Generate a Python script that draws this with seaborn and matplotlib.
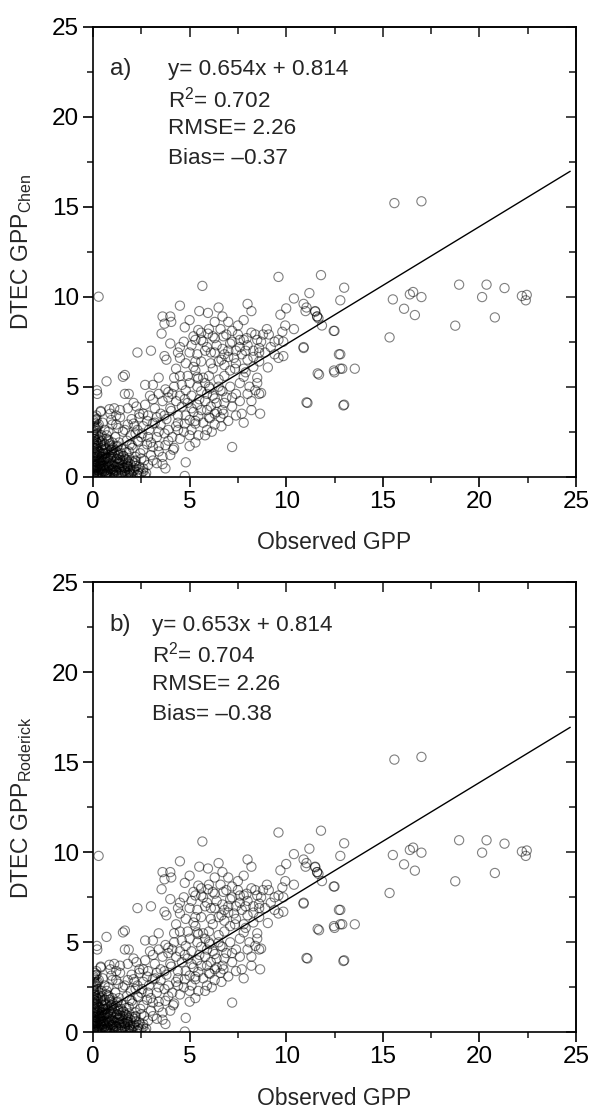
import matplotlib
matplotlib.use("Agg")
import matplotlib.pyplot as plt
import seaborn as sns
import pandas as pd
import numpy as np
from matplotlib.ticker import MultipleLocator

# ---------------- data ----------------
obs_a = [0.29, 5.66, 9.6, 11.8, 13.0, 11.2, 10.4, 12.8, 10.0, 11.0, 11.5, 9.7, 10.9, 8.0, 8.2,
         4.5, 3.6, 4.0, 3.7, 4.05, 3.55, 4.75, 5.0, 5.5, 5.95, 6.5, 6.7, 7.0, 7.5, 7.8,
         2.3, 3.0, 3.7, 4.5, 4.5, 4.7, 5.2, 5.45, 5.95, 5.6, 6.3, 6.75, 7.2, 7.6, 7.95,
         8.4, 8.7, 9.1, 9.4, 9.8, 9.95, 10.4, 9.85, 10.9, 9.85, 9.6, 9.05, 11.6, 11.85, 12.5,
         12.8, 12.9, 12.5, 13.55, 11.7, 11.1, 13.0, 8.65, 8.2, 7.7, 7.2, 7.2, 5.0, 4.8, 4.75,
         3.75, 8.6, 8.5, 8.7, 8.5, 7.8, 7.35, 7.8, 8.3, 7.9, 8.6, 7.0, 6.65, 6.1, 6.3,
         5.8, 5.2, 5.3, 5.4, 5.45, 5.0, 4.2, 4.3, 3.8, 1.55, 1.65, 0.7, 0.22, 1.65, 1.85,
         2.7, 3.1, 2.95, 3.4, 3.75, 3.9, 4.1, 4.5, 4.75, 5.6, 6.05, 6.6, 6.7, 6.3, 5.8,
         5.4, 5.1, 5.9, 6.3, 6.75, 6.05, 5.45, 5.0, 4.75, 4.4, 4.05, 3.7, 3.3, 2.85, 2.4,
         2.25, 1.8, 1.4, 1.1, 0.85, 0.4, 0.95, 1.2, 1.65, 2.1, 2.6, 3.1, 3.4, 3.9, 4.3,
         4.7, 5.1, 5.45, 5.8, 6.15, 6.65, 5.3, 2.85, 2.35, 2.0, 2.6, 3.1, 3.4, 3.75, 4.15,
         3.6, 3.0, 2.5, 2.15, 2.85, 3.3, 2.75, 2.35, 1.8, 1.5, 1.3, 0.95, 0.8, 0.45, 0.25,
         0.12, 0.17, 0.6, 0.35, 1.0, 1.65,
         # right-hand part
         11.05, 11.5, 11.6, 11.67, 12.46, 10.9, 12.73, 11.63, 12.47, 12.8, 11.05, 12.96,
         15.35, 15.52, 16.1, 16.4, 16.57, 16.66, 17.0, 18.95, 18.75, 20.14, 20.37, 20.8,
         21.3, 22.2, 22.45, 22.4, 15.6, 17.0,
         # crowded corner near the origin
         0.05, 0.1, 0.15, 0.2, 0.05, 0.3, 0.1, 0.25, 0.4, 0.35, 0.5, 0.45, 0.6, 0.7, 0.55,
         0.08, 0.2, 0.15, 0.05, 0.3, 0.12, 0.05, 0.25, 0.4, 0.5, 0.65, 0.75, 0.8, 0.9, 1.0,
         1.1, 1.2, 1.3, 1.4, 1.5, 1.6, 1.7, 1.8, 1.9, 2.0, 2.1, 2.2, 2.4, 0.02, 0.03,
         0.02, 0.07, 0.03, 0.18, 0.1, 0.6, 0.7, 0.85, 0.95, 1.05, 1.15, 1.25, 1.35, 1.45, 1.55,
         1.65, 1.75, 1.85, 1.95, 2.05, 2.15, 2.3, 2.45, 2.55, 2.65, 0.15, 0.25, 0.35, 0.45, 0.55,
         0.65, 0.75, 0.85, 0.95, 1.05, 0.12, 0.22, 0.32, 0.42, 0.62, 0.72, 0.82, 0.3, 0.5, 0.8,
         1.0, 1.3, 0.9, 1.2, 0.2, 0.4, 0.04, 0.09, 0.14, 0.19, 0.28, 0.38, 0.48, 0.58, 0.68,
         0.78, 0.88, 0.98, 1.08, 1.18, 1.28, 1.38, 1.48, 1.58, 1.68, 1.78, 1.88, 0.06, 0.16, 0.26,
         0.02, 0.03, 0.06, 0.09, 0.11, 0.13, 0.17, 0.21, 0.24, 0.27, 0.31, 0.34, 0.37, 0.41, 0.44,
         0.47, 0.51, 0.54, 0.57, 0.61, 0.64, 0.67, 0.71, 0.74, 0.77, 0.81, 0.84, 0.87, 0.91, 0.94,
         0.97, 1.01, 1.04, 1.07, 1.11, 1.14, 1.17, 1.21, 1.24, 1.27, 1.31, 1.34, 1.37, 1.41, 1.44,
         1.47, 1.52, 1.57, 1.62, 1.67, 1.72, 1.77, 1.82, 1.87, 1.92, 1.97, 2.02, 2.12, 2.22, 2.32,
         0.02, 0.04, 0.06, 0.03, 0.08, 0.05, 0.02, 0.07, 0.04, 0.09, 0.02, 0.06, 0.04, 0.14, 0.16,
         0.13, 0.18, 0.15, 0.19, 0.22, 0.24, 0.26, 0.23, 0.28, 0.29, 0.33, 0.36, 0.39, 0.43, 0.46,
         0.49, 0.53, 0.58, 0.63, 0.68, 0.73, 0.79, 0.83, 0.89, 0.96, 1.02, 1.09, 1.16, 1.23, 1.33,
         1.43, 1.53, 1.63, 1.73, 1.83, 1.93, 2.05, 2.18, 2.28, 2.4, 2.5, 2.6, 2.7,
         # middle band
         3.2, 3.5, 3.8, 4.1, 4.4, 4.6, 4.9, 5.2, 5.5, 5.7, 5.9, 6.1, 6.4, 6.6, 6.9,
         7.1, 7.4, 7.6, 7.9, 8.1, 8.3, 8.6, 8.9, 9.2, 9.4, 9.6, 6.0, 6.2, 6.5, 6.8,
         7.0, 7.3, 7.6, 7.8, 8.0, 8.2, 8.5, 8.8, 9.0, 5.3, 5.6, 5.8, 4.9, 4.6, 4.3,
         4.0, 3.6, 3.3, 2.9, 2.6, 2.3, 2.0, 1.8, 3.0, 3.7, 4.2, 4.5, 5.0, 5.3, 5.9,
         6.3, 6.7, 7.0, 7.4, 7.8, 8.2, 8.4, 6.1, 6.4, 6.7, 6.9, 7.2, 7.5, 5.1, 5.4,
         5.7, 6.0, 6.3, 6.6, 4.8, 4.4, 4.0, 3.4, 3.1, 2.7, 2.4, 2.1, 1.4,
         4.2, 4.5, 4.8, 5.1, 5.4, 5.7, 6.0, 6.2, 6.5, 6.8, 7.1, 7.4, 7.7, 8.0, 8.3,
         8.6, 5.0, 5.3, 5.6, 5.9, 6.2, 6.5, 6.8, 7.1, 7.4, 3.9, 3.5, 3.2, 2.8, 2.5,
         2.2, 2.8, 3.4, 3.9, 4.4, 4.8, 5.3, 5.6, 6.0, 6.4, 6.8, 7.2, 7.6, 8.0, 3.1,
         3.6, 4.0, 2.6, 2.2, 1.9]

chen = [10.0, 10.6, 11.1, 11.2, 10.5, 10.2, 9.9, 9.8, 9.35, 9.2, 9.2, 9.0, 9.6, 9.6, 9.2,
        9.5, 8.9, 8.9, 8.5, 8.6, 7.95, 8.3, 8.7, 9.2, 9.1, 9.4, 8.9, 8.6, 8.4, 8.7,
        6.9, 7.0, 6.7, 7.2, 6.6, 7.5, 7.8, 8.15, 7.95, 7.6, 7.7, 7.8, 7.5, 7.6, 7.7,
        7.9, 7.5, 7.9, 7.5, 8.05, 8.4, 8.2, 7.5, 7.15, 6.7, 6.6, 6.07, 8.9, 8.4, 8.1,
        6.8, 6.0, 5.8, 6.0, 5.67, 4.1, 4.0, 3.5, 3.7, 3.5, 3.9, 1.65, 1.7, 0.8, 0.04,
        0.46, 4.6, 5.2, 4.65, 5.5, 5.55, 6.0, 6.0, 6.65, 7.0, 7.15, 6.65, 6.5, 6.3, 6.9,
        7.0, 6.1, 6.4, 5.55, 5.45, 5.2, 5.5, 6.0, 6.5, 5.55, 5.65, 5.3, 4.6, 4.6, 4.6,
        5.1, 5.1, 4.5, 4.6, 4.85, 4.7, 4.6, 4.5, 4.3, 4.75, 4.9, 4.8, 4.75, 4.35, 4.2,
        4.0, 3.8, 3.7, 3.5, 3.5, 3.25, 3.35, 3.15, 2.95, 3.4, 3.65, 3.4, 3.3, 3.4, 3.3,
        3.9, 3.8, 3.3, 3.8, 3.75, 3.65, 3.15, 2.9, 2.6, 2.95, 2.8, 2.95, 2.5, 2.6, 2.8,
        2.5, 2.6, 2.3, 2.3, 2.5, 2.8, 2.95, 2.2, 1.95, 1.75, 1.5, 1.65, 1.4, 1.75, 1.5,
        1.1, 1.2, 1.0, 0.75, 0.65, 0.75, 0.2, 0.4, 0.45, 0.75, 1.3, 1.5, 2.05, 2.3, 2.8,
        3.15, 3.4, 1.1, 0.75, 0.4, 0.2,
        # right-hand part
        9.4, 9.17, 8.9, 8.8, 8.1, 7.2, 6.8, 5.74, 5.9, 6.0, 4.13, 3.96,
        7.74, 9.85, 9.33, 10.13, 10.26, 8.98, 9.98, 10.67, 8.39, 9.98, 10.67, 8.85,
        10.48, 10.04, 10.1, 9.8, 15.2, 15.3,
        # crowded corner near the origin
        0.1, 0.3, 0.05, 0.5, 0.7, 0.2, 1.0, 0.8, 0.4, 0.1, 0.6, 1.1, 0.3, 0.05, 0.9,
        1.4, 1.7, 2.0, 2.3, 1.4, 2.7, 3.0, 2.4, 1.9, 1.5, 1.3, 0.8, 0.4, 0.15, 0.7,
        0.35, 0.1, 0.55, 0.9, 0.25, 0.5, 0.1, 0.8, 0.3, 0.1, 0.5, 1.1, 0.15, 0.2, 0.5,
        1.2, 1.8, 2.6, 3.2, 3.3, 2.6, 2.1, 1.8, 1.1, 1.6, 2.2, 1.0, 1.9, 1.3, 2.5,
        1.0, 2.0, 1.4, 2.3, 1.6, 2.8, 2.0, 1.3, 2.4, 0.9, 0.15, 0.35, 0.6, 0.2, 0.45,
        0.65, 0.25, 0.55, 0.4, 0.2, 0.65, 1.2, 1.0, 0.75, 1.0, 1.5, 1.2, 2.9, 3.0, 2.5,
        2.9, 2.7, 3.5, 3.4, 4.8, 3.6, 0.35, 0.85, 0.6, 1.55, 0.05, 0.9, 0.3, 1.25, 0.15,
        1.05, 0.45, 1.35, 0.6, 0.3, 1.7, 0.75, 0.05, 1.15, 0.35, 0.6, 0.2, 2.1, 0.05, 1.75,
        0.45, 1.6, 0.9, 2.1, 0.25, 1.35, 2.55, 0.05, 1.85, 0.7, 1.15, 2.2, 0.45, 1.6, 0.95,
        2.0, 0.15, 1.3, 0.6, 1.8, 0.35, 1.05, 2.3, 0.5, 1.4, 0.1, 0.85, 1.7, 0.3, 1.25,
        0.65, 1.9, 0.45, 1.1, 0.05, 0.8, 1.45, 0.35, 1.65, 0.7, 0.2, 1.2, 0.5, 0.95, 0.15,
        1.55, 0.6, 1.15, 0.3, 0.75, 1.35, 0.2, 0.55, 1.05, 0.4, 0.15, 0.85, 0.35, 0.6, 0.25,
        0.05, 0.35, 0.6, 0.85, 1.1, 1.3, 1.55, 1.75, 1.95, 2.2, 2.45, 2.8, 3.1, 0.45, 0.85,
        1.6, 1.9, 2.35, 2.75, 0.15, 0.6, 1.05, 1.45, 2.05, 0.35, 0.85, 1.35, 0.15, 0.55, 1.25,
        0.85, 1.75, 0.95, 1.55, 0.2, 1.0, 0.6, 1.95, 1.0, 1.5, 0.3, 1.35, 0.55, 1.0, 0.8,
        0.4, 0.9, 0.5, 0.95, 0.1, 0.7, 0.3, 0.85, 0.1, 0.55, 0.2, 0.45, 0.05,
        # middle band
        3.8, 2.9, 3.2, 2.2, 3.0, 3.9, 4.1, 3.6, 4.3, 3.0, 4.6, 3.9, 4.1, 3.3, 4.4,
        5.0, 4.6, 5.2, 5.8, 5.0, 6.1, 6.4, 6.9, 7.2, 6.8, 7.6, 5.6, 6.0, 5.4, 6.2,
        7.0, 6.6, 7.2, 7.6, 7.3, 8.0, 7.6, 7.9, 8.2, 5.9, 6.4, 5.2, 5.6, 5.1, 4.2,
        3.8, 4.2, 2.2, 2.6, 3.5, 2.6, 3.2, 2.9, 1.9, 2.4, 1.6, 2.1, 2.3, 1.9, 2.6,
        2.9, 3.7, 3.1, 3.4, 3.0, 4.2, 4.8, 6.9, 7.3, 7.1, 7.9, 8.1, 7.9, 7.3, 6.8,
        7.5, 8.2, 8.6, 8.2, 6.3, 6.9, 7.4, 5.5, 4.3, 4.0, 3.5, 4.1, 3.7,
        5.0, 5.6, 4.8, 4.5, 5.0, 5.5, 5.0, 4.5, 5.0, 5.6, 5.9, 6.3, 6.8, 6.5, 7.0,
        6.9, 6.9, 7.6, 8.0, 7.2, 7.8, 6.4, 6.8, 7.4, 7.0, 4.4, 3.5, 3.0, 3.1, 2.2,
        2.4, 1.8, 1.7, 2.0, 2.6, 3.4, 3.1, 3.7, 3.3, 3.6, 4.1, 4.4, 4.2, 4.6, 0.9,
        0.7, 1.2, 0.3, 0.9, 1.8]

obs_b = list(obs_a)
roderick = list(chen)
# small differences seen in panel b
roderick[0] = 9.8
roderick[obs_a.index(15.6)] = 15.15

stats_a = ["y= 0.654x + 0.814", "R$^2$= 0.702", "RMSE= 2.26", "Bias= \u20130.37"]
stats_b = ["y= 0.653x + 0.814", "R$^2$= 0.704", "RMSE= 2.26", "Bias= \u20130.38"]
slope_a, icpt_a = 0.654, 0.814
slope_b, icpt_b = 0.653, 0.814

# ---------------- style ----------------
sns.set_theme(style="white")
plt.rcParams["font.family"] = ["Liberation Sans", "DejaVu Sans"]
plt.rcParams["mathtext.fontset"] = "custom"
plt.rcParams["mathtext.rm"] = "Liberation Sans"
plt.rcParams["mathtext.it"] = "Liberation Sans"
plt.rcParams["mathtext.default"] = "regular"

fig = plt.figure(figsize=(5.91, 11.13), dpi=100)
W, H = 591, 1113
ax_a = fig.add_axes([93 / W, (H - 476.7) / H, 483 / W, 450 / H])
ax_b = fig.add_axes([93 / W, (H - 1032.3) / H, 483 / W, 450 / H])


def panel(ax, obs, mod, slope, icpt, letter, stats, ylabel, tx):
    df = pd.DataFrame({"obs": obs, "mod": mod})
    sns.scatterplot(data=df, x="obs", y="mod", ax=ax, marker="o", s=44,
                    facecolor="none", edgecolor="black", linewidth=0.8, alpha=0.5,
                    legend=False, zorder=2)
    lx = np.array([0.0, 24.7])
    sns.lineplot(x=lx, y=slope * lx + icpt, ax=ax, color="black", linewidth=1.0,
                 zorder=3)
    ax.set_xlim(0, 25)
    ax.set_ylim(0, 25)
    ax.xaxis.set_major_locator(MultipleLocator(5))
    ax.yaxis.set_major_locator(MultipleLocator(5))
    ax.xaxis.set_minor_locator(MultipleLocator(2.5))
    ax.yaxis.set_minor_locator(MultipleLocator(2.5))
    ax.tick_params(which="major", direction="out", length=7, width=1.2,
                   labelsize=17.5, colors="black", pad=3)
    ax.tick_params(which="minor", direction="out", length=4, width=1.2)
    ax.tick_params(which="both", bottom=True, left=True, top=False, right=False)
    for sp in ax.spines.values():
        sp.set_linewidth(1.2)
        sp.set_color("black")
    secx = ax.secondary_xaxis("top")
    secx.xaxis.set_major_locator(MultipleLocator(5))
    secx.xaxis.set_minor_locator(MultipleLocator(2.5))
    secx.tick_params(which="both", direction="in", length=7, width=1.2, labeltop=False)
    secx.tick_params(which="minor", length=5)
    secy = ax.secondary_yaxis("right")
    secy.yaxis.set_major_locator(MultipleLocator(5))
    secy.yaxis.set_minor_locator(MultipleLocator(2.5))
    secy.tick_params(which="both", direction="in", length=7, width=1.2, labelright=False)
    secy.tick_params(which="minor", length=5)
    ax.set_xlabel("Observed GPP", fontsize=16.5)
    ax.xaxis.set_label_coords(0.5, -0.147)
    ax.xaxis.label.set_va("center")
    ax.set_ylabel(ylabel, fontsize=16.5)
    ax.yaxis.set_label_coords(-0.147, 0.5)
    ax.yaxis.label.set_va("center")
    ax.text(0.035, 0.905, letter, transform=ax.transAxes, fontsize=17.5,
            va="center", ha="left")
    for i, s in enumerate(stats):
        ax.text(tx, 0.905 - i * 0.066, s, transform=ax.transAxes, fontsize=16.2,
                va="center", ha="left")


panel(ax_a, obs_a, chen, slope_a, icpt_a, "a)", stats_a, "DTEC GPP$_{Chen}$", 0.156)
panel(ax_b, obs_b, roderick, slope_b, icpt_b, "b)", stats_b,
      "DTEC GPP$_{Roderick}$", 0.123)

fig.savefig("out.png", dpi=100)
